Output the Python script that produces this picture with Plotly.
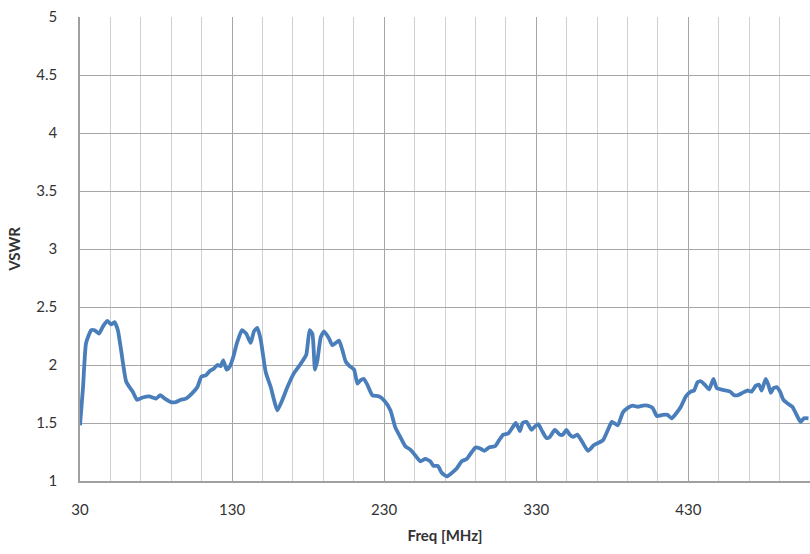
import plotly.graph_objects as go

freq_mhz = [30, 32, 34, 37.4, 39.6, 42.4, 45, 47.9, 50.5, 52.7, 54.9, 57, 60.3, 62.5, 64.7, 67.5,
            71.2, 75.6, 77.8, 80, 82.8, 85.8, 89.8, 93, 96.3, 99.6, 104, 107.2, 109.8, 112.7,
            115.5, 118.1, 120.3, 122.5, 124.2, 126.4, 128.6, 130.8, 133.2, 136.5, 139.3, 142.2,
            144.4, 146.6, 148.8, 152.1, 155.4, 159.8, 163.1, 166.4, 170.7, 175.1, 178.8, 181.0,
            182.8, 184.5, 186.1, 188.3, 190.4, 193.3, 195.9, 198.1, 200.3, 202.5, 204.7, 207.3,
            210.2, 212.4, 214.6, 216.7, 218.9, 222.2, 226.5, 230.3, 234.1, 237.4, 240.6, 243.9,
            247.2, 250.5, 253.8, 257.0, 260.3, 262.5, 265.3, 267.9, 271.2, 274.5, 277.8, 281.0,
            284.3, 287.6, 290.2, 293.1, 295.9, 299.2, 302.9, 305.5, 308.3, 311.6, 313.8, 316.6,
            319.3, 321.0, 323.6, 326.9, 329.1, 331.3, 333.9, 336.7, 338.9, 342.2, 345.4, 347.6,
            349.8, 352.0, 354.2, 357.0, 360.1, 364.0, 368.0, 373.8, 377.1, 379.7, 383.6, 386.9,
            390.2, 393.4, 396.7, 400.0, 403.2, 406.5, 409.3, 413.1, 416.3, 419.0, 421.8, 425.1,
            428.4, 431.6, 433.8, 436.0, 438.2, 440.8, 443.7, 446.5, 448.7, 451.3, 454.6, 457.5,
            460.1, 462.7, 465.6, 468.8, 471.5, 474.3, 476.5, 478.2, 480.9, 482.6, 484.2, 485.9,
            488.1, 490.3, 492.5, 495.1, 498.4, 501.2, 503.8, 506.0, 509.0]

vswr = [1.48, 1.81, 2.19, 2.30, 2.30, 2.27, 2.33, 2.38, 2.35, 2.37, 2.30, 2.13, 1.86, 1.81, 1.77, 1.70,
        1.72, 1.73, 1.72, 1.71, 1.74, 1.71, 1.68, 1.68, 1.70, 1.71, 1.76, 1.81, 1.90, 1.91,
        1.95, 1.97, 2.00, 1.99, 2.04, 1.96, 1.99, 2.07, 2.19, 2.30, 2.27, 2.19,
        2.29, 2.32, 2.22, 1.94, 1.81, 1.61, 1.70, 1.81, 1.93, 2.01, 2.09, 2.30,
        2.27, 1.96, 2.04, 2.24, 2.29, 2.24, 2.17, 2.19, 2.21, 2.13, 2.03, 1.99,
        1.96, 1.84, 1.87, 1.88, 1.83, 1.74, 1.73, 1.69, 1.61, 1.46, 1.38, 1.30,
        1.27, 1.22, 1.17, 1.19, 1.17, 1.13, 1.13, 1.07, 1.04, 1.07, 1.11, 1.17,
        1.19, 1.25, 1.29, 1.28, 1.26, 1.29, 1.30, 1.35, 1.40, 1.41, 1.45, 1.50,
        1.43, 1.50, 1.51, 1.44, 1.47, 1.49, 1.43, 1.37, 1.38, 1.44, 1.40, 1.40,
        1.44, 1.40, 1.38, 1.40, 1.34, 1.26, 1.31, 1.35, 1.44, 1.51, 1.48, 1.59,
        1.63, 1.65, 1.64, 1.65, 1.65, 1.63, 1.56, 1.57, 1.57, 1.54, 1.58, 1.64,
        1.73, 1.77, 1.78, 1.85, 1.86, 1.83, 1.79, 1.88, 1.80, 1.79, 1.78, 1.77,
        1.74, 1.74, 1.76, 1.78, 1.77, 1.82, 1.83, 1.78, 1.88, 1.83, 1.76, 1.80,
        1.81, 1.77, 1.70, 1.67, 1.64, 1.57, 1.51, 1.54, 1.54]

x_ticks = [30, 130, 230, 330, 430]
y_ticks = [1, 1.5, 2, 2.5, 3, 3.5, 4, 4.5, 5]
y_tick_labels = ["1", "1.5", "2", "2.5", "3", "3.5", "4", "4.5", "5"]

FONT = "Lato, 'Open Sans', 'Liberation Sans', sans-serif"

fig = go.Figure()
fig.add_trace(go.Scatter(
    x=freq_mhz, y=vswr, mode="lines",
    line=dict(color="#4a7ebb", width=3.8, shape="spline", smoothing=0.5),
    hoverinfo="x+y", showlegend=False,
))

fig.update_layout(
    width=810, height=554,
    margin=dict(l=80, r=0, t=17, b=73),
    paper_bgcolor="white", plot_bgcolor="white",
    font=dict(family=FONT, size=15, color="#333333"),
    xaxis=dict(
        range=[30, 510], tickvals=x_ticks, ticktext=[str(v) for v in x_ticks],
        showgrid=True, gridcolor="#a6a6a6", gridwidth=1,
        minor=dict(tick0=30, dtick=20, showgrid=True, gridcolor="#d0d0d0", gridwidth=1),
        showline=True, linecolor="#a0a0a0", linewidth=1.5,
        zeroline=False, ticks="", ticklabelstandoff=14,
        title=dict(text="<b>Freq [MHz]</b>", font=dict(size=15, color="#333333"), standoff=14),
    ),
    yaxis=dict(
        range=[1, 5], tickvals=y_ticks, ticktext=y_tick_labels,
        showgrid=True, gridcolor="#a6a6a6", gridwidth=1,
        showline=True, linecolor="#a0a0a0", linewidth=1.5,
        zeroline=False, ticks="", ticklabelstandoff=18,
        title=dict(text="<b>VSWR</b>", font=dict(size=15, color="#333333"), standoff=12),
    ),
)

# remove the browser's default 8px page margin so the figure sits at the window origin
fig.write_html("out.html", config={"displayModeBar": False},
               post_script="document.body.style.margin='0';")
